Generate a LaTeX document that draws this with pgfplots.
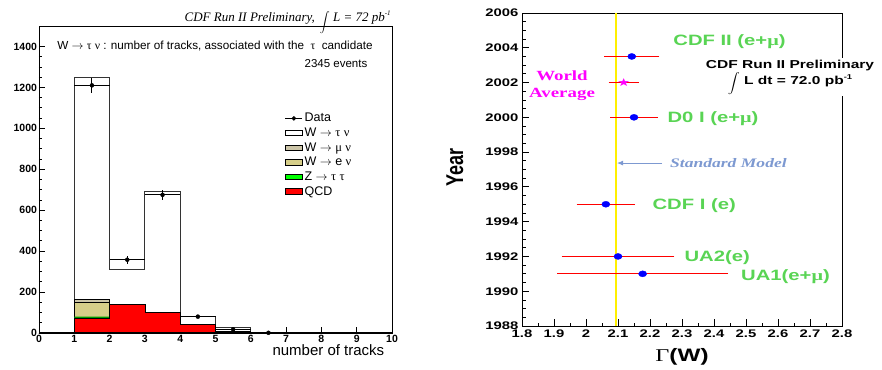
\documentclass[border=0pt]{standalone}
\usepackage{pgfplots}
\pgfplotsset{compat=1.18}
\usepackage{fontspec}
\usepackage{graphicx}
\usetikzlibrary{plotmarks,arrows.meta}
\setmainfont{Liberation Sans}
\newfontfamily\grk{Liberation Serif}
\newfontfamily\tim{Liberation Serif}
\newfontfamily\djv{DejaVu Sans}
\newfontfamily\rsans{Liberation Sans}[FakeStretch=1.35]
\newfontfamily\rserif{Liberation Serif}[FakeStretch=1.35]
\definecolor{wmu}{RGB}{204,197,168}
\definecolor{we}{RGB}{214,206,137}
\definecolor{zg}{RGB}{0,255,0}
\definecolor{lgreen}{RGB}{89,212,84}
\definecolor{smblue}{RGB}{125,153,209}
\definecolor{yel}{RGB}{255,240,0}
\definecolor{mag}{RGB}{255,0,255}
\begin{document}
\begin{tikzpicture}
\path[use as bounding box] (0,0) rectangle (882pt,369pt);
% ---------------- left panel ----------------
\begin{axis}[
 at={(39pt,36pt)}, anchor=south west, width=353pt, height=307pt, scale only axis,
 xmin=0,xmax=10,ymin=0,ymax=1500,
 xtick={0,1,2,3,4,5,6,7,8,9,10}, ytick={0,200,400,600,800,1000,1200,1400}, minor y tick num=3,
 tick align=inside, xtick pos=bottom, ytick pos=left,
 major tick length=6pt, minor tick length=3pt,
 axis line style={line width=0.8pt}, tick style={black, line width=0.8pt},
 ticklabel style={font=\fontsize{10.5}{10.5}\selectfont\bfseries},
 yticklabel style={xshift=1.5pt},
 xticklabel style={yshift=1pt},
 /pgf/number format/assume math mode=true,
 /pgf/number format/set thousands separator={},
 clip=false,
 legend style={at={(axis cs:6.96,1082)}, anchor=north west, draw=none, fill=none,
   inner sep=0pt, row sep=1.3pt, nodes={inner sep=1.6pt},
   font=\fontsize{12.5}{14.5}\selectfont},
 legend cell align=left,
]
\addlegendimage{black, line width=0.8pt, mark=*, mark size=1.8pt}
\addlegendentry{Data}
\addlegendimage{area legend, fill=white, draw=black, line width=1pt}
\addlegendentry{W $\rightarrow$ {\grk τ} {\grk ν}}
\addlegendimage{area legend, fill=wmu, draw=none}
\addlegendentry{W $\rightarrow$ {\grk μ} {\grk ν}}
\addlegendimage{area legend, fill=we, draw=none}
\addlegendentry{W $\rightarrow$ e {\grk ν}}
\addlegendimage{area legend, fill=zg, draw=none}
\addlegendentry{Z $\rightarrow$ {\grk τ} {\grk τ}}
\addlegendimage{area legend, fill=red, draw=none}
\addlegendentry{QCD}
% W -> tau nu (top of stack)
\addplot[forget plot, const plot, fill=white, draw=black!80, line width=0.9pt]
 coordinates {(0,0)(1,1250)(2,310)(3,690)(4,80)(5,25)(6,0)(10,0)} \closedcycle;
% W -> mu nu (cumulative)
\addplot[forget plot, const plot, fill=wmu, draw=black, line width=0.8pt]
 coordinates {(1,165)(2,165)} \closedcycle;
% W -> e nu (cumulative)
\addplot[forget plot, const plot, fill=we, draw=black, line width=0.8pt]
 coordinates {(1,150)(2,150)} \closedcycle;
% Z -> tau tau (cumulative)
\addplot[forget plot, const plot, fill=zg!60!black, draw=none]
 coordinates {(1,80)(2,80)} \closedcycle;
% QCD
\addplot[forget plot, const plot, fill=red, draw=black, line width=0.8pt]
 coordinates {(0,0)(1,70)(2,140)(3,100)(4,40)(5,8)(6,0)(10,0)} \closedcycle;
% Data
\addplot[forget plot, only marks, black, mark=*, mark size=2pt,
 error bars/.cd, x dir=both, x explicit, y dir=both, y explicit,
 error mark=none, error bar style={black, line width=1pt}]
 coordinates {(1.5,1210) +- (0.5,35) (2.5,358) +- (0.5,19) (3.5,675) +- (0.5,26)
  (4.5,80) +- (0.5,9) (5.5,18) +- (0.5,4) (6.5,1) +- (0.5,1)};
\draw[black, line width=1.2pt] (axis cs:0,0) -- (axis cs:10,0);
\node[anchor=west, font=\fontsize{11.7}{11.7}\selectfont] at (axis cs:0.42,1400)
 {W $\rightarrow$ {\grk τ} {\grk ν} : number of tracks, associated with the \ {\grk τ} \ candidate};
\node[anchor=east, font=\fontsize{11.5}{11.5}\selectfont] at (axis cs:9.4,1318) {2345 events};
\node[anchor=base east, font=\fontsize{15}{15}\selectfont] at (rel axis cs:0.988,0) [yshift=-22pt] {number of tracks};
\node[anchor=base east, inner sep=0pt, font=\tim\itshape\fontsize{13}{13}\selectfont] at (rel axis cs:0.997,1) [yshift=4pt]
 {CDF Run II Preliminary,\hspace{5pt}\raisebox{-3.5pt}{\fontsize{12.5}{12.5}\selectfont$\displaystyle\int$}\ L = 72 pb\raisebox{6pt}{\fontsize{7}{7}\selectfont -1}};
\end{axis}
% ---------------- right panel ----------------
\begin{axis}[
 at={(522pt,43pt)}, anchor=south west, width=320pt, height=313pt, scale only axis,
 xmin=1.8,xmax=2.8,ymin=1988,ymax=2006,
 xtick={1.8,1.9,2.0,2.1,2.2,2.3,2.4,2.5,2.6,2.7,2.8},
 xticklabels={1.8,1.9,2,2.1,2.2,2.3,2.4,2.5,2.6,2.7,2.8},
 ytick={1988,1990,1992,1994,1996,1998,2000,2002,2004,2006},
 yticklabels={1988,1990,1992,1994,1996,1998,2000,2002,2004,2006},
 minor x tick num=1, minor y tick num=3,
 tick align=inside, xtick pos=bottom, ytick pos=left,
 major tick length=7pt, minor tick length=3.5pt,
 axis line style={line width=0.8pt}, tick style={black, line width=0.8pt},
 ticklabel style={font=\rsans\fontsize{11}{11}\selectfont\bfseries},
 /pgf/number format/assume math mode=true,
 clip=false,
]
\addplot[yel, line width=2.2pt] coordinates {(2.094,1988) (2.094,2006)};
\addplot[only marks, blue, mark=*, mark size=3pt, mark options={xscale=1.35, fill=blue, draw=blue},
 error bars/.cd, x dir=both, x explicit,
 error bar style={red, line width=0.8pt}, error mark options={red, mark size=2pt, line width=0.8pt}]
 coordinates {(2.143,2003.5) +- (0.080,0) (2.150,2000) +- (0.068,0) (2.062,1995) +- (0.085,0)
  (2.100,1992) +- (0.170,0) (2.177,1991) +- (0.261,0)};
\addplot[only marks, mag, mark=text, text mark={\scalebox{1.35}[1]{\color{mag}\djv\fontsize{11}{11}\selectfont ★}},
 error bars/.cd, x dir=both, x explicit,
 error bar style={red, line width=0.8pt}, error mark options={red, mark size=2pt, line width=0.8pt}]
 coordinates {(2.118,2002) +- (0.041,0)};
\draw[smblue, line width=0.8pt, -{Latex[length=6pt,width=5pt]}] (axis cs:2.238,1997.37) -- (axis cs:2.097,1997.37);
\node[anchor=west, text=smblue, font=\rserif\bfseries\itshape\fontsize{13}{13}\selectfont] at (axis cs:2.252,1997.37) {Standard Model};
\node[align=center, text=mag, font=\rserif\bfseries\fontsize{14}{17}\selectfont] at (axis cs:1.925,2001.82) {World\\Average};
\node[anchor=west, text=lgreen, font=\rsans\bfseries\fontsize{15}{15}\selectfont] at (axis cs:2.262,2004.37) {CDF II (e+{\rserif μ})};
\node[anchor=west, text=lgreen, font=\rsans\bfseries\fontsize{15}{15}\selectfont] at (axis cs:2.244,1999.95) {D0 I (e+{\rserif μ})};
\node[anchor=west, text=lgreen, font=\rsans\bfseries\fontsize{15}{15}\selectfont] at (axis cs:2.197,1994.95) {CDF I (e)};
\node[anchor=west, text=lgreen, font=\rsans\bfseries\fontsize{15}{15}\selectfont] at (axis cs:2.297,1991.92) {UA2(e)};
\node[anchor=west, text=lgreen, font=\rsans\bfseries\fontsize{15}{15}\selectfont] at (axis cs:2.474,1990.81) {UA1(e+{\rserif μ})};
\node[fill=white, align=center, inner sep=2pt, font=\rsans\bfseries\fontsize{11.5}{14}\selectfont] at (axis cs:2.6375,2002.3)
 {CDF Run II Preliminary\\ \raisebox{-2pt}{\scalebox{1.2}[1]{$\displaystyle\int$}} L dt = 72.0 pb\raisebox{5pt}{\fontsize{7}{7}\selectfont -1}};
\node[anchor=center, font=\fontsize{18}{18}\selectfont] at (rel axis cs:0.5,0) [yshift=-31pt]
 {{\rserif Γ}{\rsans\bfseries (W)}};
\node[anchor=center] at (rel axis cs:0,0.505) [xshift=-67pt]
 {\scalebox{1.35}[1]{\rotatebox{90}{\bfseries\fontsize{18}{18}\selectfont Year}}};
\end{axis}
\end{tikzpicture}
\end{document}
